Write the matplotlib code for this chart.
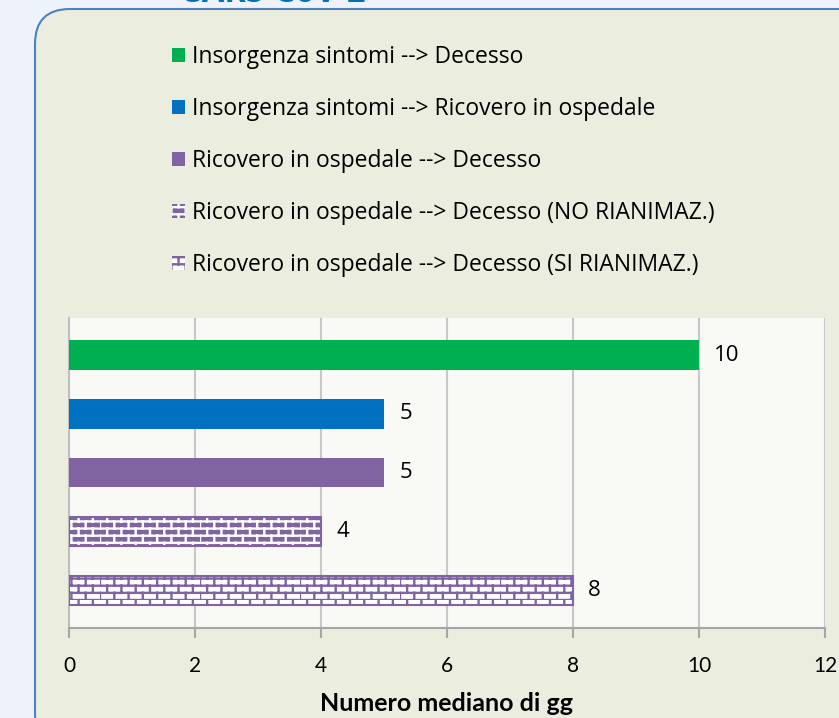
import matplotlib
matplotlib.use('Agg')
import matplotlib.pyplot as plt
from matplotlib import hatch as mhatch
from matplotlib.patches import FancyBboxPatch, Patch
import numpy as np
import warnings

warnings.filterwarnings('ignore')

# data
labels = ['Insorgenza sintomi --> Decesso',
          'Insorgenza sintomi --> Ricovero in ospedale',
          'Ricovero in ospedale --> Decesso',
          'Ricovero in ospedale --> Decesso (NO RIANIMAZ.)',
          'Ricovero in ospedale --> Decesso (SI RIANIMAZ.)']
values = [10, 5, 5, 4, 8]
colors = ['#00B050', '#0070C0', '#8064A2', '#8064A2', '#FFFFFF']
hatch_colors = [None, None, None, '#FFFFFF', '#8064A2']
xticks = [0, 2, 4, 6, 8, 10, 12]

purple = '#8064A2'


# brick pattern like the excel fill ('b' in the hatch string)
class BrickHatch(mhatch.HatchPatternBase):
    def __init__(self, hatch, density):
        self.rows = 14 if 'b' in hatch else 0
        self.bricks = self.rows // 2
        self.num_vertices = 2 * self.rows + 2 * self.rows * self.bricks

    def set_vertices_and_codes(self, vertices, codes):
        h = 1.0 / self.rows
        w = 1.0 / self.bricks
        k = 0
        for r in range(self.rows):
            y = r * h
            vertices[k] = (0, y)
            vertices[k + 1] = (1, y)
            k += 2
            off = 0 if r % 2 == 0 else w / 2
            for j in range(self.bricks):
                x = j * w + off
                vertices[k] = (x, y)
                vertices[k + 1] = (x, y + h)
                k += 2
        codes[0::2] = mhatch.Path.MOVETO
        codes[1::2] = mhatch.Path.LINETO


mhatch._hatch_types.append(BrickHatch)
plt.rcParams['hatch.linewidth'] = 1.7

fig = plt.figure(figsize=(8.39, 7.18), dpi=100)
fig.patch.set_facecolor('#EEF2FA')

# rounded panel
box = FancyBboxPatch((0.35, -0.3), 8.4, 7.39,
                     boxstyle='round,pad=0,rounding_size=0.35',
                     transform=fig.dpi_scale_trans,
                     facecolor='#EBEEDF', edgecolor='#4F81BD', linewidth=1.5,
                     zorder=-1)
fig.patches.append(box)

# title mostly cut off at the top
fig.text(0.22, 0.997, 'SARS-CoV-2', color='#0070C0', fontsize=23.5,
         fontweight='bold', family='Open Sans', va='baseline', ha='left')

ax = fig.add_axes([0.0822, 0.1253, 0.9011, 0.4318])
ax.set_zorder(2)
ax.set_facecolor('#F9F9F5')

ypos = np.arange(len(values))[::-1]
handles = []
for i in range(len(values)):
    if hatch_colors[i] is None:
        ax.barh(ypos[i], values[i], height=0.5, color=colors[i], zorder=3)
        handles.append(Patch(facecolor=colors[i], label=labels[i]))
    else:
        ax.barh(ypos[i], values[i], height=0.5, color=colors[i], zorder=3)
        ax.barh(ypos[i], values[i], height=0.5, facecolor='none',
                edgecolor=hatch_colors[i], hatch='b', linewidth=0, zorder=4)
        ax.barh(ypos[i], values[i], height=0.5, facecolor='none',
                edgecolor=purple, linewidth=1.5, zorder=5)
        handles.append(Patch(facecolor=colors[i], edgecolor=hatch_colors[i],
                             hatch='b', linewidth=0, label=labels[i]))
    ax.annotate(str(values[i]), (values[i], ypos[i]), xytext=(11, 0),
                textcoords='offset points', va='center', ha='left',
                fontsize=16, family='Open Sans', color='#000000')

ax.set_xlim(0, 12)
ax.set_ylim(-0.64, 4.63)
ax.set_xticks(xticks)
ax.set_xticklabels([str(t) for t in xticks], fontsize=15, family='Lato')
ax.set_yticks([])
ax.tick_params(axis='x', length=7, width=1.5, color='#A6A6A6', pad=13)
ax.grid(axis='x', color='#C8C8C8', linewidth=1.5, zorder=0)
for s in ['top', 'right']:
    ax.spines[s].set_visible(False)
ax.spines['left'].set_color('#BFBFBF')
ax.spines['left'].set_linewidth(1.5)
ax.spines['bottom'].set_color('#A6A6A6')
ax.spines['bottom'].set_linewidth(1.5)
ax.set_xlabel('Numero mediano di gg', fontsize=18, fontweight='bold',
              family='Lato', labelpad=12)

fig.legend(handles=handles, loc='upper left', bbox_to_anchor=(0.18, 0.966),
           frameon=False, prop={'family': 'Open Sans', 'size': 16.5},
           handlelength=0.58, handleheight=0.58, handletextpad=0.3,
           labelspacing=1.22)

fig.savefig('out.png', dpi=100, facecolor=fig.get_facecolor())
